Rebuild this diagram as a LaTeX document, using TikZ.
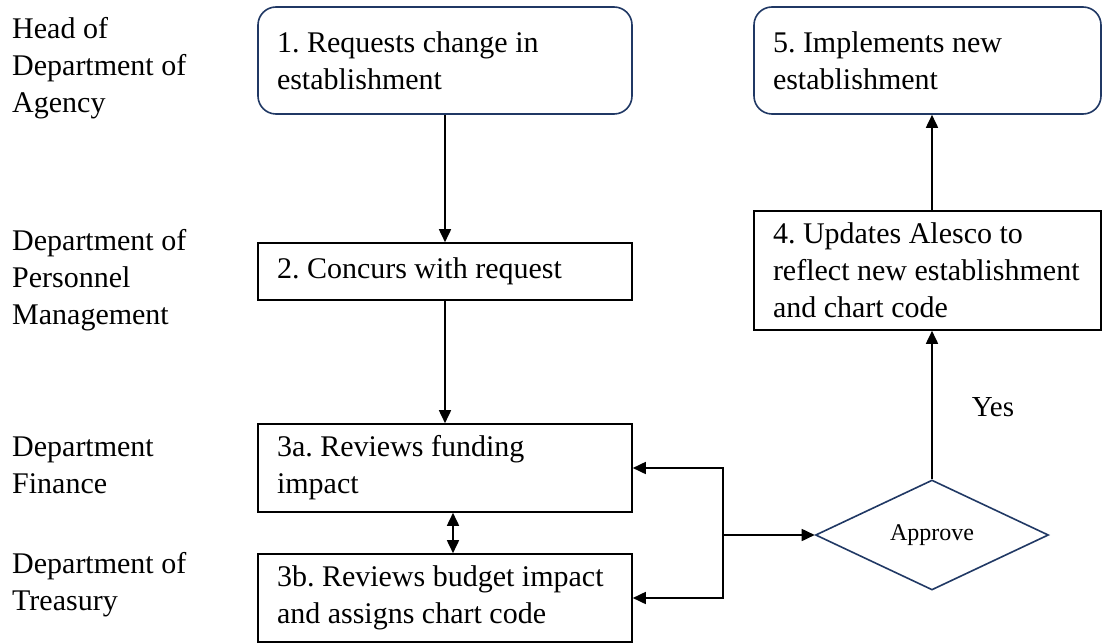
\documentclass[tikz,border=0pt]{standalone}
\usepackage{fontspec}
\setmainfont{Liberation Serif}
\usetikzlibrary{arrows.meta,shapes.geometric}
\definecolor{navy}{RGB}{32,56,100}
\frenchspacing
\hyphenpenalty=10000
\exhyphenpenalty=10000
\begin{document}
\begin{tikzpicture}[x=1pt,y=-1pt,
  every node/.style={font=\fontsize{30}{37}\selectfont},
  box/.style={draw=black,line width=1.6pt,align=flush left,inner xsep=19pt,inner ysep=0pt},
  rbox/.style={box,draw=navy,rounded corners=18pt},
  lane/.style={align=flush left,anchor=north west,inner sep=0pt},
  tip/.tip={Triangle[length=13pt,width=12pt]},
  arr/.style={line width=1.7pt,-tip},
  darr/.style={line width=1.7pt,tip-tip}]
\useasboundingbox (0,0) rectangle (1103,644);
% lane labels
\node[lane] (l1) at (12,17) {Head of\\Department of\\Agency};
\node[lane] (l2) at (12,229) {Department of\\Personnel\\Management};
\node[lane] (l3) at (12,437) {Department\\Finance};
\node[lane] (l4) at (12,552) {Department of\\Treasury};
% boxes
\node[rbox,minimum width=374,text width=336,minimum height=107] (b1) at (445,60.5)
  {1. Requests change in\\establishment};
\node[rbox,minimum width=347,text width=309,minimum height=107] (b5) at (927.5,60.5)
  {5. Implements new\\establishment};
\node[box,minimum width=374,text width=336,minimum height=57] (b2) at (445,271.5)
  {2. Concurs with request};
\node[box,minimum width=347,text width=309,minimum height=119] (b4) at (927.5,270.5)
  {4.~Updates~Alesco~to\\reflect~new~establishment\\and~chart~code};
\node[box,minimum width=374,text width=336,minimum height=88] (b3a) at (445,468)
  {3a. Reviews funding\\impact};
\node[box,minimum width=374,text width=336,minimum height=88] (b3b) at (445,598)
  {3b.~Reviews~budget~impact\\and~assigns~chart~code};
\node[diamond,draw=navy,line width=1.6pt,minimum width=233,minimum height=110,
  inner sep=0pt,aspect=2,font=\fontsize{24}{28}\selectfont] (dia) at (932,535) {Approve};
\node[font=\fontsize{29}{32}\selectfont] (yes) at (993,407) {Yes};
% connectors
\coordinate (j) at (723,535);
\draw[arr] (b1.south) -- (b2.north);
\draw[arr] (b2.south) -- (b3a.north);
\draw[darr] ([xshift=8]b3a.south) -- ([xshift=8]b3b.north);
\draw[arr] (j) |- (b3a.east);
\draw[arr] (j) |- (b3b.east);
\draw[arr] (j) -- (dia.west);
\draw[arr] (dia.north) -- (dia.north |- b4.south);
\draw[arr] (dia.north |- b4.north) -- (dia.north |- b5.south);
\end{tikzpicture}
\end{document}
